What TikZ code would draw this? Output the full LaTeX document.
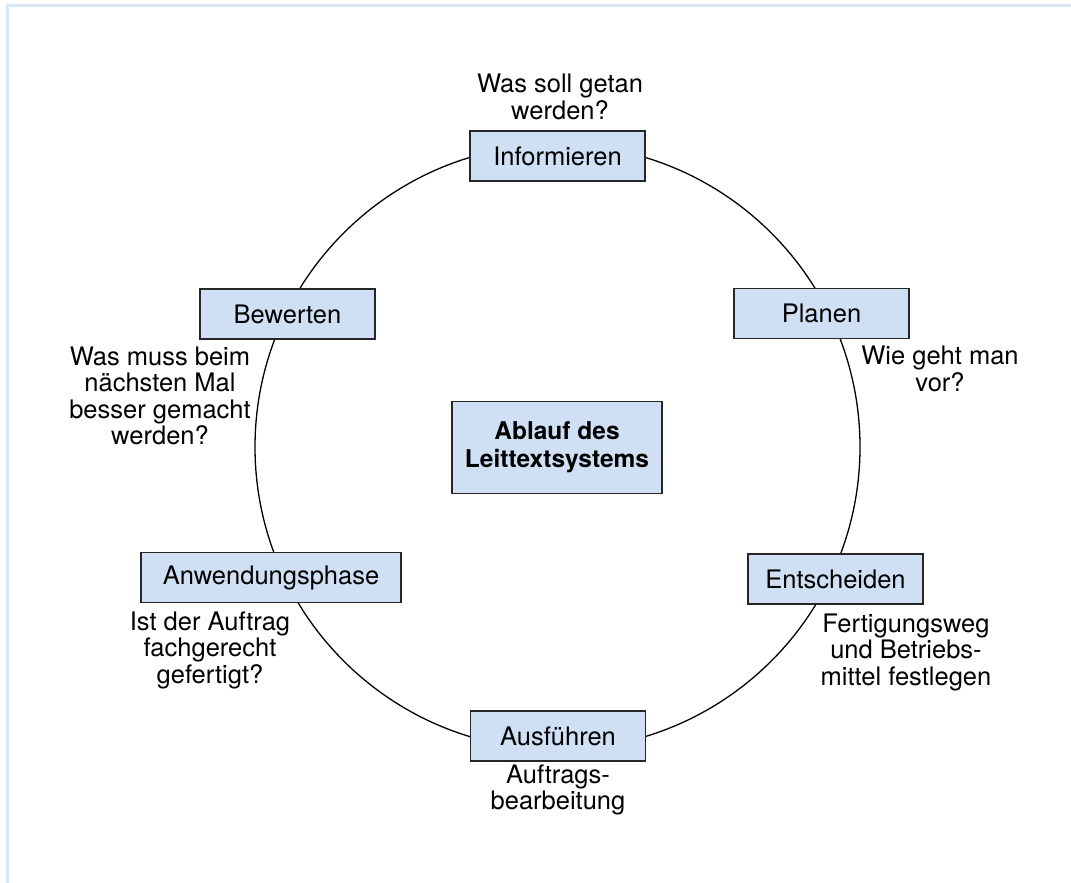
\documentclass[tikz,border=0pt]{standalone}
\usepackage{fontspec}
\setmainfont{TeX Gyre Heros}
\begin{document}
\definecolor{frameblue}{HTML}{D6E8F8}
\definecolor{boxblue}{HTML}{CFE0F4}
\begin{tikzpicture}[x=1pt,y=-1pt,
  txt/.style={font=\fontsize{25.5}{26.5}\selectfont},
  phase/.style={txt,draw=black!85,line width=1.4pt,fill=boxblue,
    minimum height=50pt,inner sep=0pt},
  note/.style={txt,align=center,inner sep=0pt}]
\useasboundingbox (0,0) rectangle (1071,883);
% page frame
\draw[frameblue,line width=3pt] (7,883) -- (7,6) -- (1071,6);
% the cycle
\draw[line width=1.3pt] (557.5,447) circle[radius=302.5];
% phases
\node[phase,minimum width=175pt] (info) at (557.5,156) {Informieren};
\node[phase,minimum width=175pt] (plan) at (821.5,313.5) {Planen};
\node[phase,minimum width=175pt] (ent)  at (835.5,579) {Entscheiden};
\node[phase,minimum width=175pt] (aus)  at (558,736) {Ausführen};
\node[phase,minimum width=260pt] (anw)  at (271,577.5) {Anwendungsphase};
\node[phase,minimum width=175pt] (bew)  at (287.5,314) {Bewerten};
% centre
\node[phase,minimum width=210pt,minimum height=92pt,align=center,
  font=\fontsize{24.5}{28}\selectfont\bfseries] (mid) at (557,447.5)
  {Ablauf des\\Leittextsystems};
% guiding questions
\node[note] (qinfo) at (560,97) {Was soll getan\\werden?};
\node[note] (qplan) at (940,369) {Wie geht man\\vor?};
\node[note] (qent)  at (906,652) {Fertigungsweg\\und Betriebs-\\mittel festlegen};
\node[note] (qaus)  at (558,790) {Auftrags-\\bearbeitung};
\node[note] (qanw)  at (210,650) {Ist der Auftrag\\fachgerecht\\gefertigt?};
\node[note] (qbew)  at (160,396) {Was muss beim\\nächsten Mal\\besser gemacht\\werden?};
\end{tikzpicture}
\end{document}
